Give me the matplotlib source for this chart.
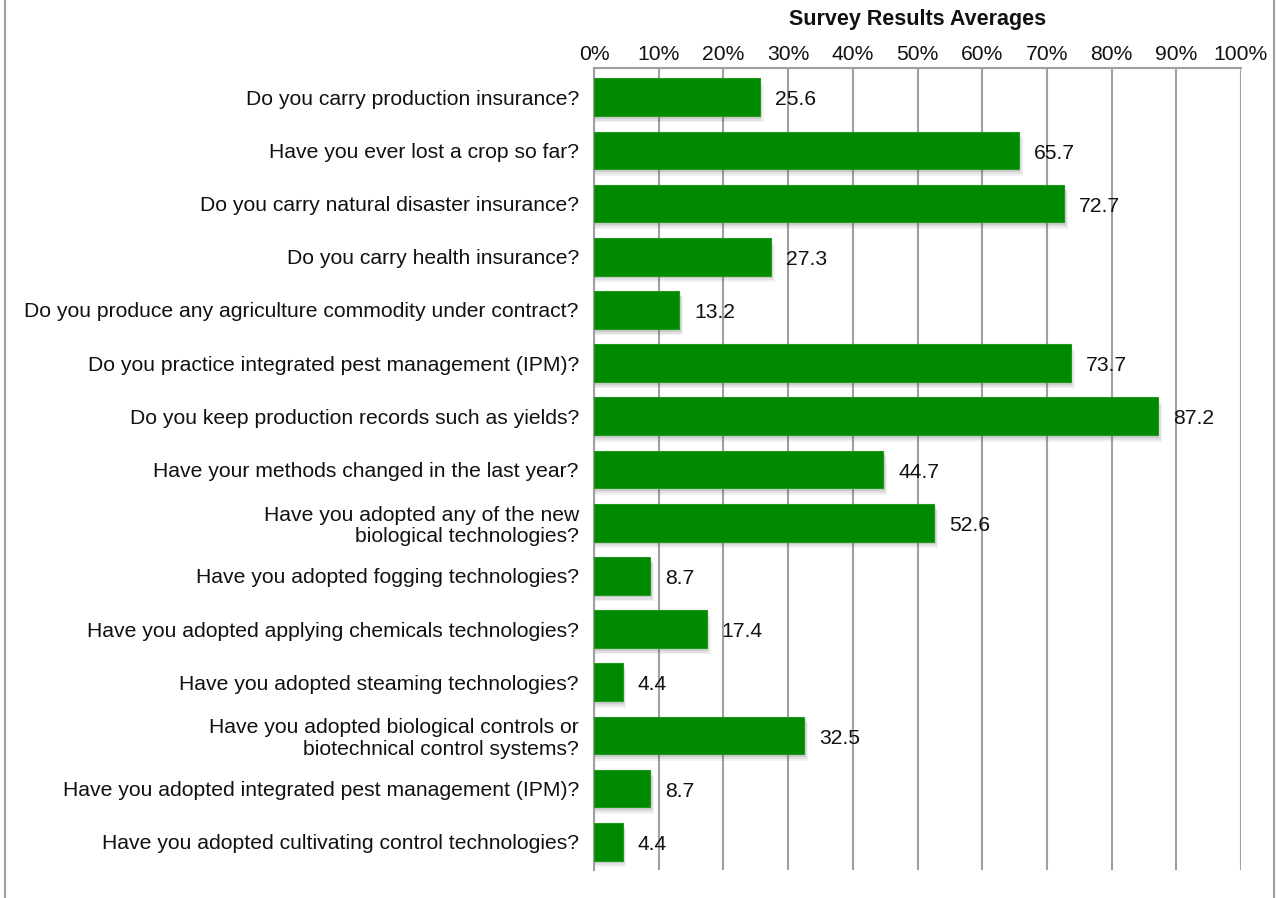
import matplotlib.pyplot as plt
from matplotlib.lines import Line2D

plt.rcParams['font.family'] = ['Liberation Sans', 'DejaVu Sans']

# survey questions and average "yes" percentages
questions = [
    "Do you carry production insurance?",
    "Have you ever lost a crop so far?",
    "Do you carry natural disaster insurance?",
    "Do you carry health insurance?",
    "Do you produce any agriculture commodity under contract?",
    "Do you practice integrated pest management (IPM)?",
    "Do you keep production records such as yields?",
    "Have your methods changed in the last year?",
    "Have you adopted any of the new\nbiological technologies?",
    "Have you adopted fogging technologies?",
    "Have you adopted applying chemicals technologies?",
    "Have you adopted steaming technologies?",
    "Have you adopted biological controls or\nbiotechnical control systems?",
    "Have you adopted integrated pest management (IPM)?",
    "Have you adopted cultivating control technologies?",
]
averages = [25.6, 65.7, 72.7, 27.3, 13.2, 73.7, 87.2, 44.7, 52.6,
            8.7, 17.4, 4.4, 32.5, 8.7, 4.4]
xticks = list(range(0, 101, 10))
xticklabels = [f"{t}%" for t in xticks]

fs = 15.2

fig = plt.figure(figsize=(12.77, 8.98), dpi=100)
ax = fig.add_axes([0.4652, 0.0312, 0.5066, 0.8931])

ypos = list(range(len(questions)))
bar_h = 0.71

# soft drop shadow under each bar
for dx, dy, a in [(0.6, 0.12, 0.08), (0.4, 0.09, 0.10), (0.2, 0.05, 0.14)]:
    ax.barh([y + dy for y in ypos], [v + dx for v in averages], height=bar_h,
            color='#555555', alpha=a, zorder=2, linewidth=0)
ax.barh(ypos, averages, height=bar_h, color='#008a00', edgecolor='#1f9a1f',
        linewidth=0.8, zorder=3)

for y, v in zip(ypos, averages):
    ax.text(v + 2.3, y + 0.05, f"{v}", va='center', ha='left', fontsize=fs,
            color='#111111', zorder=4)

ax.set_xlim(0, 100)
ax.set_ylim(len(questions) - 0.47, -0.55)
ax.set_yticks(ypos)
ax.set_yticklabels(questions, fontsize=fs, color='#111111', linespacing=1.15)
ax.set_xticks(xticks)
ax.set_xticklabels(xticklabels, fontsize=fs, color='#111111')
ax.xaxis.tick_top()
ax.tick_params(axis='both', length=0)
ax.tick_params(axis='y', pad=11)
ax.tick_params(axis='x', pad=3)

ax.grid(axis='x', color='#a0a0a0', linewidth=1.5, zorder=1)
ax.set_axisbelow(True)
for side in ['right', 'bottom']:
    ax.spines[side].set_visible(False)
ax.spines['left'].set_color('#a0a0a0')
ax.spines['left'].set_linewidth(1.5)
ax.spines['top'].set_color('#a0a0a0')
ax.spines['top'].set_linewidth(1.5)

fig.text(0.7185, 0.978, "Survey Results Averages", ha='center', va='center',
         fontsize=15.5, fontweight='bold', color='#111111')

# outer frame lines on both sides
fig.add_artist(Line2D([0.004, 0.004], [0, 1], color='#a0a0a0', linewidth=1.5,
                      transform=fig.transFigure))
fig.add_artist(Line2D([0.998, 0.998], [0, 1], color='#a0a0a0', linewidth=1.5,
                      transform=fig.transFigure))

fig.savefig("out.png", dpi=100)
